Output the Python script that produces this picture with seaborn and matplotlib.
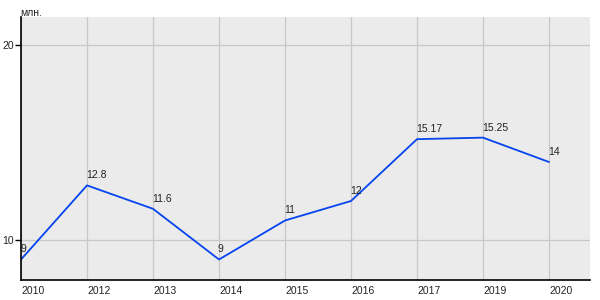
import matplotlib
matplotlib.use("Agg")
import matplotlib.pyplot as plt
import matplotlib.transforms as mtransforms
import seaborn as sns
import pandas as pd

years = ["2010", "2012", "2013", "2014", "2015", "2016", "2017", "2019", "2020"]
values = [9, 12.8, 11.6, 9, 11, 12, 15.17, 15.25, 14]
value_labels = ["9", "12.8", "11.6", "9", "11", "12", "15.17", "15.25", "14"]
y_ticks = [10, 20]
unit_label = "млн."

sns.set_theme(style="darkgrid")
plt.rcParams['font.family'] = ['Liberation Sans', 'DejaVu Sans']

df = pd.DataFrame({"pos": list(range(len(years))), "value": values})

fig = plt.figure(figsize=(6, 3), dpi=100, facecolor="white")
ax = fig.add_axes([21/600, 20/300, (590-21)/600, (280-17)/300])
ax.set_facecolor("#ebebeb")

sns.lineplot(data=df, x="pos", y="value", ax=ax, color="#0544ee", linewidth=1.3)

ax.set_xlim(0, (590-21)/66)
ax.set_ylim(10 - 40/19.5, 20 + 28/19.5)
ax.set_xticks(df["pos"])
ax.set_xticklabels(years, ha="left", fontsize=7.5, color="#222222")
ax.set_yticks(y_ticks)
ax.set_yticklabels([str(t) for t in y_ticks], fontsize=7.5, color="#222222")
ax.grid(True, color="#c8c8c8", linewidth=0.9)
ax.set_xlabel("")
ax.set_ylabel("")

shift = mtransforms.ScaledTranslation(-2/100, 0, fig.dpi_scale_trans)
for lbl in ax.get_xticklabels():
    lbl.set_transform(lbl.get_transform() + shift)

for s in ["top", "right"]:
    ax.spines[s].set_visible(False)
for s in ["left", "bottom"]:
    ax.spines[s].set_visible(True)
    ax.spines[s].set_color("black")
    ax.spines[s].set_linewidth(1.2)

ax.tick_params(axis="x", length=0, pad=4)
ax.tick_params(axis="y", length=4, width=1, color="black", left=True, pad=1)

for p, v, lab in zip(df["pos"], values, value_labels):
    ax.annotate(lab, (p, v), xytext=(-1, 5), textcoords="offset pixels",
                ha="left", va="bottom", fontsize=7.5, color="#222222")

fig.text(20/600, 1 - 13/300, unit_label, ha="left", va="center", fontsize=7.5, color="#222222")

fig.savefig("out.png", dpi=100, facecolor="white")
